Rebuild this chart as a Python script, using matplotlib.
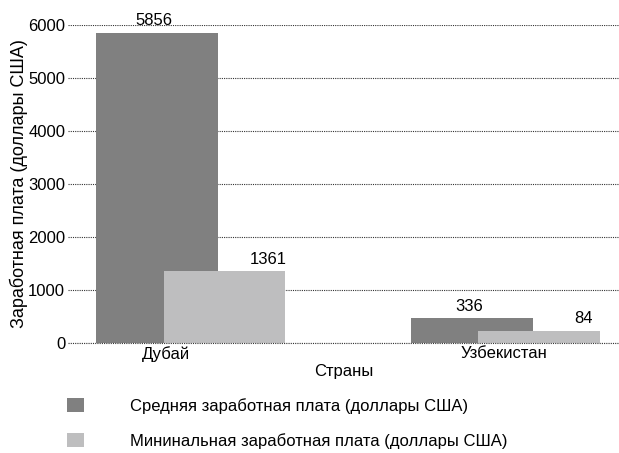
import matplotlib.pyplot as plt
import numpy as np

plt.rcParams['font.family'] = ['Liberation Sans', 'DejaVu Sans']

countries = ["Дубай", "Узбекистан"]
avg_wage = [5856, 336]      # value labels
min_wage = [1361, 84]
# bar heights as they are drawn in the source picture
avg_drawn = [5856, 470]
min_drawn = [1361, 235]

avg_label = "Средняя заработная плата (доллары США)"
min_label = "Мининальная заработная плата (доллары США)"

dark = "#808080"
light = "#bebebf"
fs = 12

fig = plt.figure(figsize=(6.19, 4.53), dpi=100)
ax = fig.add_axes([68 / 619, 110 / 453, 551 / 619, 318 / 453])

x = np.arange(len(countries))
w = 0.387
off = 0.107

b1 = ax.bar(x - off, avg_drawn, w, color=dark, zorder=2, label=avg_label)
b2 = ax.bar(x + off, min_drawn, w, color=light, zorder=3, label=min_label)

for xi, h, v in zip(x - off, avg_drawn, avg_wage):
    ax.annotate(str(v), (xi - 0.01, h), xytext=(0, 3), textcoords="offset points",
                ha="center", va="bottom", fontsize=fs, annotation_clip=False)
for xi, h, v in zip(x + off, min_drawn, min_wage):
    ax.annotate(str(v), (xi + 0.36 * w, h), xytext=(0, 3), textcoords="offset points",
                ha="center", va="bottom", fontsize=fs, annotation_clip=False)

ax.set_xlim(-0.39, 1.36)
ax.set_ylim(0, 6000)
ax.set_yticks(range(0, 6001, 1000))
ax.set_xticks([-0.08, 0.995])
ax.set_xticklabels(countries)
ax.tick_params(axis="both", length=0, labelsize=fs, pad=2)
ax.yaxis.grid(True, linestyle=(0, (1, 1)), color="#333333", linewidth=0.8, zorder=0)
for s in ax.spines.values():
    s.set_visible(False)
ax.axhline(0, linestyle=(0, (1, 1)), color="#333333", linewidth=0.8, zorder=4, clip_on=False)

ax.set_xlabel("Страны", fontsize=fs, labelpad=2)
ax.set_ylabel("Заработная плата (доллары США)", fontsize=13, labelpad=0)

fig.legend(handles=[b1, b2], loc="upper left", bbox_to_anchor=(67 / 619, (453 - 398) / 453),
           frameon=False, fontsize=fs, handlelength=1.0, handleheight=0.9,
           handletextpad=2.8, labelspacing=1.15, borderpad=0, borderaxespad=0)

fig.savefig("out.png", dpi=100)
